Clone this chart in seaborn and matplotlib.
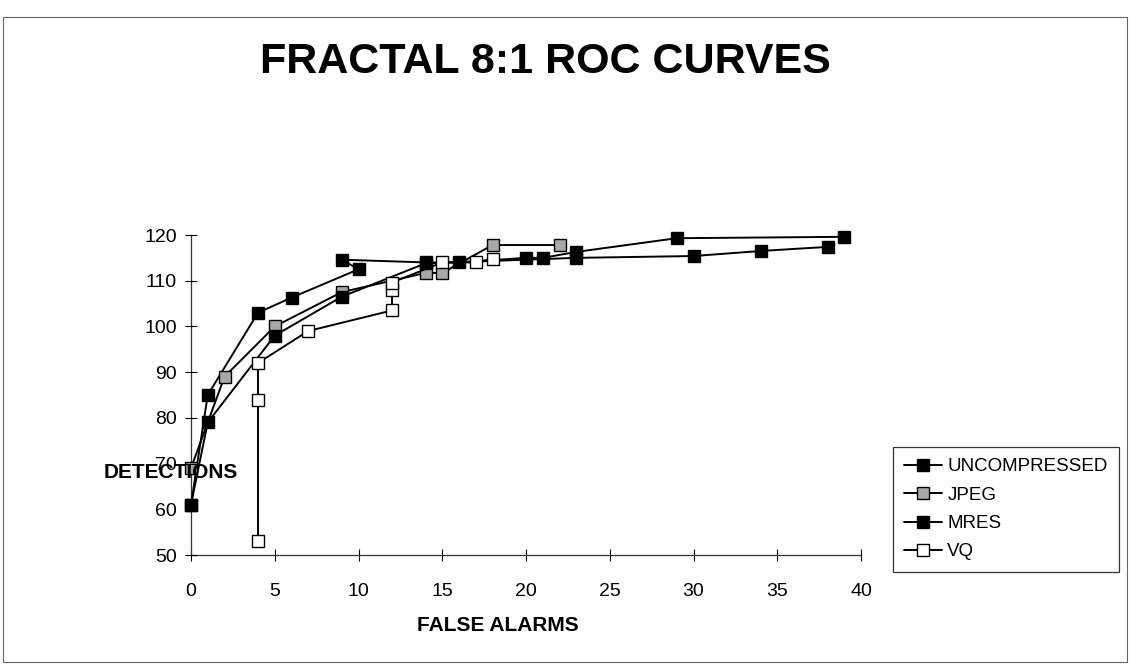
"""
FRACTAL 8:1 ROC curves - detections vs false alarms for four compression modes.
Saves out.png (1130x668).
"""

import matplotlib
matplotlib.use("Agg")  # no display
import matplotlib.pyplot as plt
import seaborn as sns
from matplotlib.patches import Rectangle

# ------------------------------------------------------------------ data
uncomp_fa = [0, 1, 4, 6, 10, 9, 14, 16, 20, 21, 23, 29, 39]
uncomp_det = [61, 85, 103, 106.3, 112.5, 114.6, 114, 114, 115, 115, 116.3, 119.3, 119.6]

jpeg_fa = [0, 2, 5, 9, 14, 15, 18, 22]
jpeg_det = [69, 89, 100, 107.5, 111.7, 111.7, 117.8, 117.8]

mres_fa = [0, 1, 5, 9, 14, 23, 30, 34, 38]
mres_det = [61, 79, 98, 106.5, 113.8, 115, 115.4, 116.5, 117.4]

vq_fa = [4, 4, 4, 7, 12, 12, 12, 15, 17, 18]
vq_det = [53, 84, 92, 99, 103.5, 108, 109.6, 114, 114, 114.8]

x_ticks = [0, 5, 10, 15, 20, 25, 30, 35, 40]
y_ticks = [50, 60, 70, 80, 90, 100, 110, 120]

sns.set_theme(style="white")
plt.rcParams["font.family"] = ["Liberation Sans", "DejaVu Sans"]
for key in ["text.color", "axes.labelcolor", "xtick.color", "ytick.color"]:
    plt.rcParams[key] = "black"

fig = plt.figure(figsize=(11.3, 6.68), dpi=100)
ax = fig.add_axes([191 / 1130, 1 - 555 / 668, 670 / 1130, 320 / 668])

series = [
    ("UNCOMPRESSED", uncomp_fa, uncomp_det, "black"),
    ("JPEG", jpeg_fa, jpeg_det, "#a8a8a8"),
    ("MRES", mres_fa, mres_det, "black"),
    ("VQ", vq_fa, vq_det, "white"),
]
for name, xs, ys, face in series:
    sns.lineplot(x=xs, y=ys, ax=ax, sort=False, estimator=None, color="black",
                 linewidth=1.4, marker="s", markersize=8,
                 markerfacecolor=face, markeredgecolor="black",
                 markeredgewidth=1.0, label=name, clip_on=False, zorder=3)

ax.set_xlim(0, 40)
ax.set_ylim(50, 120)
ax.set_xticks(x_ticks)
ax.set_yticks(y_ticks)
ax.tick_params(axis="both", direction="inout", length=8, width=0.8,
               labelsize=14, left=True, bottom=True)
ax.tick_params(axis="x", pad=16)
ax.tick_params(axis="y", pad=6)
for side in ["top", "right"]:
    ax.spines[side].set_visible(False)
for side in ["left", "bottom"]:
    ax.spines[side].set_color("#333333")
    ax.spines[side].set_linewidth(0.9)
ax.set_facecolor("none")

ax.set_xlabel("FALSE ALARMS", fontsize=15, fontweight="bold")
ax.xaxis.set_label_coords(0.458, -0.19)
ax.set_ylabel("DETECTIONS", fontsize=15, fontweight="bold", rotation=0,
              ha="center", va="center")
ax.yaxis.set_label_coords(-0.03, 0.258)
ax.yaxis.set_zorder(5)  # label sits over the first JPEG marker, as in the scan

fig.text(545 / 1130, 1 - 62 / 668, "FRACTAL 8:1 ROC CURVES", fontsize=31,
         fontweight="bold", ha="center", va="center")

leg = ax.legend(loc="upper left", bbox_to_anchor=(893 / 1130, 1 - 447 / 668),
                bbox_transform=fig.transFigure, fontsize=13.5, frameon=True,
                fancybox=False, edgecolor="black", handlelength=2.0,
                handletextpad=0.3, labelspacing=0.6, borderpad=0.6,
                borderaxespad=0)
leg.get_frame().set_linewidth(0.9)

# scanned chart-area border
fig.patches.append(Rectangle((3 / 1130, 6 / 668), 1124 / 1130, 645 / 668,
                             transform=fig.transFigure, fill=False,
                             edgecolor="#666666", linewidth=0.8))

fig.savefig("out.png", dpi=100)
plt.close(fig)
